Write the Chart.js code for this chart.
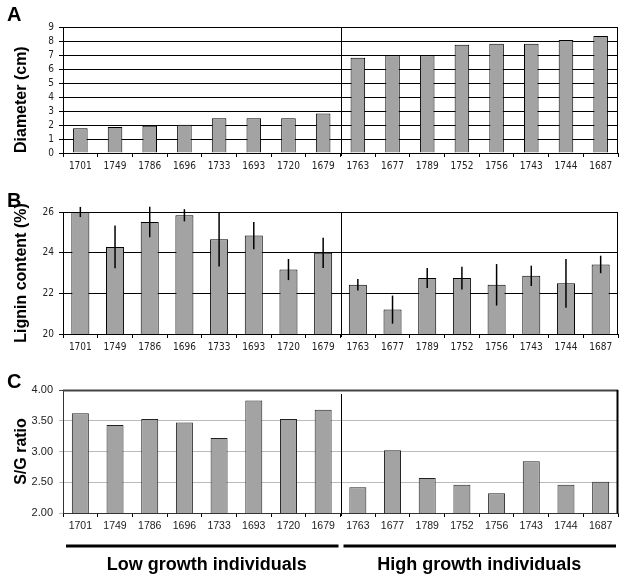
<!DOCTYPE html>
<html>
<head>
<meta charset="utf-8">
<script src="https://cdn.jsdelivr.net/npm/chart.js@4.4.0/dist/chart.umd.min.js"></script>
<style>
    body { margin: 0; background: #fff; }
    #wrap { position: relative; width: 624px; height: 578px; font-family: "Liberation Sans", Arial, sans-serif; }
    canvas { position: absolute; left: 0; }
    .panel { position: absolute; left: 7px; font-weight: bold; font-size: 20px; line-height: 20px; color: #000; }
</style>
</head>
<body>
<div id="wrap">
    <canvas id="chartA" width="624" height="180" style="top:0px"></canvas>
    <canvas id="chartB" width="624" height="186" style="top:180px"></canvas>
    <canvas id="chartC" width="624" height="212" style="top:366px"></canvas>
    <div class="panel" style="top:4px">A</div>
    <div class="panel" style="top:190px">B</div>
    <div class="panel" style="top:371px">C</div>
</div>
<script>
const samples = ["1701", "1749", "1786", "1696", "1733", "1693", "1720", "1679",
    "1763", "1677", "1789", "1752", "1756", "1743", "1744", "1687"]
const diameter = [1.76, 1.86, 1.95, 2.02, 2.48, 2.48, 2.48, 2.83, 6.81, 6.98, 6.98, 7.74, 7.81, 7.81, 8.07, 8.36]
const lignin = [26.0, 24.28, 25.51, 25.84, 24.66, 24.84, 23.17, 23.99, 22.42, 21.2, 22.75, 22.75, 22.42, 22.86, 22.49, 23.42]
const ligninErr = [0.25, 1.05, 0.75, 0.3, 1.34, 0.67, 0.52, 0.74, 0.28, 0.69, 0.49, 0.56, 1.02, 0.5, 1.2, 0.43]
const sgRatio = [3.62, 3.43, 3.53, 3.47, 3.22, 3.83, 3.53, 3.68, 2.42, 3.02, 2.57, 2.46, 2.32, 2.84, 2.46, 2.51]
const groups = ["Low growth individuals", "High growth individuals"]
const groupSize = 8

const Chart = window.Chart
const smallFont = { family: "'Liberation Sans Narrow', 'DejaVu Sans Condensed', 'Liberation Sans', sans-serif", size: 10 }
const titleFont = { family: "'Liberation Sans', Arial, sans-serif", size: 16, weight: "bold" }

// border on top/right plus the vertical line between the two groups
const framePlugin = {
    id: "frame",
    afterDatasetsDraw(chart, args, opts) {
        const { ctx, chartArea: a } = chart
        const x = chart.scales.x
        ctx.save()
        ctx.lineWidth = opts.width || 1
        ctx.strokeStyle = opts.top || "#000"
        ctx.beginPath()
        ctx.moveTo(a.left, a.top + 0.5)
        ctx.lineTo(a.right, a.top + 0.5)
        ctx.stroke()
        ctx.strokeStyle = opts.right || "#000"
        ctx.beginPath()
        ctx.moveTo(a.right - 0.5, a.top)
        ctx.lineTo(a.right - 0.5, a.bottom)
        ctx.stroke()
        const xs = Math.round((x.getPixelForValue(groupSize - 1) + x.getPixelForValue(groupSize)) / 2) + 0.5
        ctx.lineWidth = 1
        ctx.strokeStyle = "#000"
        ctx.beginPath()
        ctx.moveTo(xs, a.top + (opts.splitTop || 0))
        ctx.lineTo(xs, a.bottom + 3)
        ctx.stroke()
        ctx.restore()
    },
}

const errorBarPlugin = {
    id: "errorBars",
    afterDatasetsDraw(chart) {
        const { ctx } = chart
        const y = chart.scales.y
        const meta = chart.getDatasetMeta(0)
        ctx.save()
        ctx.strokeStyle = "#000"
        ctx.lineWidth = 1.5
        meta.data.forEach((bar, i) => {
            const v = lignin[i], e = ligninErr[i]
            ctx.beginPath()
            ctx.moveTo(bar.x, y.getPixelForValue(v + e))
            ctx.lineTo(bar.x, y.getPixelForValue(v - e))
            ctx.stroke()
        })
        ctx.restore()
    },
}

const groupPlugin = {
    id: "groupLabels",
    afterDraw(chart) {
        const { ctx, chartArea: a } = chart
        const x = chart.scales.x
        const half = (x.getPixelForValue(1) - x.getPixelForValue(0)) / 2
        ctx.save()
        groups.forEach((g, i) => {
            const start = x.getPixelForValue(i * groupSize) - half
            const end = x.getPixelForValue((i + 1) * groupSize - 1) + half
            ctx.strokeStyle = "#000"
            ctx.lineWidth = 3
            ctx.beginPath()
            ctx.moveTo(start + 3, a.bottom + 33)
            ctx.lineTo(end - 2, a.bottom + 33)
            ctx.stroke()
            ctx.fillStyle = "#000"
            ctx.font = "bold 18px 'Liberation Sans', Arial, sans-serif"
            ctx.textAlign = "center"
            ctx.textBaseline = "middle"
            ctx.fillText(g, (start + end) / 2 + (i === 0 ? 5 : 0), a.bottom + 52)
        })
        ctx.restore()
    },
}

function makePanel(id, opts) {
    return new Chart(document.getElementById(id).getContext("2d"), {
        type: "bar",
        data: {
            labels: samples,
            datasets: [
                {
                    data: opts.data,
                    backgroundColor: "#a3a3a3",
                    borderColor: opts.barBorder || "#000",
                    borderWidth: 1,
                    barPercentage: opts.barPct,
                    categoryPercentage: 1,
                },
            ],
        },
        options: {
            responsive: false,
            animation: false,
            events: [],
            layout: { padding: { top: opts.padTop, right: 6, left: 0, bottom: opts.padBottom || 0 } },
            plugins: {
                legend: { display: false },
                tooltip: { enabled: false },
                frame: opts.frame || {},
            },
            scales: {
                x: {
                    afterFit: (s) => { s.height = opts.xHeight },
                    grid: { drawOnChartArea: false, drawTicks: true, tickLength: 4, color: "#000" },
                    border: { color: opts.axisColor || "#000" },
                    ticks: { autoSkip: false, maxRotation: 0, padding: 3, color: "#222", font: opts.xFont || smallFont },
                },
                y: {
                    min: opts.min,
                    max: opts.max,
                    afterFit: (s) => { s.width = 63 },
                    grid: { color: opts.gridColor || "#000", tickLength: 4 },
                    border: { color: opts.axisColor || "#000" },
                    ticks: {
                        stepSize: opts.step,
                        autoSkip: false,
                        maxTicksLimit: 20,
                        padding: opts.yPad || 5,
                        color: "#222",
                        font: opts.yFont || smallFont,
                        callback: opts.yFormat || ((v) => v),
                    },
                    title: {
                        display: true,
                        text: opts.title,
                        align: opts.titleAlign || "center",
                        color: "#000",
                        font: titleFont,
                        padding: { top: 12, bottom: 0 },
                    },
                },
            },
        },
        plugins: opts.plugins,
    })
}

document.addEventListener("DOMContentLoaded", () => {
    // A - Diameter
    makePanel("chartA", {
        data: diameter, min: 0, max: 9, step: 1, barPct: 0.42,
        padTop: 27, xHeight: 27, title: "Diameter (cm)", titleAlign: "start",
        plugins: [framePlugin],
    })

    // B - Lignin content with error bars
    makePanel("chartB", {
        data: lignin, min: 20, max: 26, step: 2, barPct: 0.52,
        padTop: 32, xHeight: 32, title: "Lignin content (%)",
        plugins: [framePlugin, errorBarPlugin],
    })

    // C - S/G ratio
    makePanel("chartC", {
        data: sgRatio, min: 2, max: 4, step: 0.5, barPct: 0.49,
        padTop: 24, padBottom: 45, xHeight: 20, title: "S/G ratio",
        barBorder: "#222", axisColor: "#333",
        gridColor: (c) => (c.tick && c.tick.value === 4 ? "#444" : "#bbb"),
        xFont: { family: "'Liberation Sans', Arial, sans-serif", size: 10.5 },
        yFont: { family: "'Liberation Sans', Arial, sans-serif", size: 11 },
        yPad: 6,
        yFormat: (v) => v.toFixed(2),
        frame: { top: "#444", right: "#000", width: 2, splitTop: 4 },
        plugins: [framePlugin, groupPlugin],
    })
})
</script>
</body>
</html>
